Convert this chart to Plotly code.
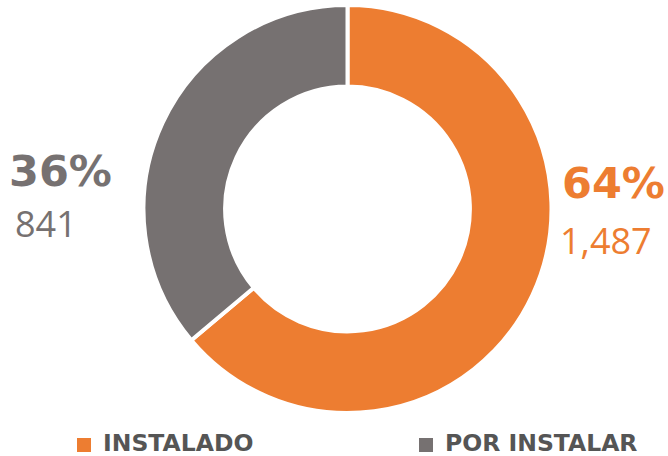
import plotly.graph_objects as go

categories = ["INSTALADO", "POR INSTALAR"]
values = [1487, 841]
colors = ["#ED7D31", "#767171"]

total = sum(values)
pcts = [round(v / total * 100) for v in values]

W, H = 668, 456
fig = go.Figure()
fig.add_trace(go.Pie(
    labels=categories, values=values, hole=0.6, sort=False,
    direction="clockwise", rotation=0,
    marker=dict(colors=colors, line=dict(color="white", width=4)),
    textinfo="none", hoverinfo="label+value+percent",
    domain=dict(x=[143 / W, 552 / W], y=[(H - 413) / H, (H - 5) / H]),
    showlegend=False,
))

bold_font = "DejaVu Sans"
light_font = "Open Sans"

def px(x, y):
    return x / W, 1 - y / H

# right label (INSTALADO)
x, y = px(560, 183)
fig.add_annotation(x=x, y=y, xref="paper", yref="paper", xanchor="left", yanchor="middle",
                   text=f"<b>{pcts[0]}%</b>", showarrow=False,
                   font=dict(family=bold_font, size=43, color=colors[0]))
x, y = px(558, 240)
fig.add_annotation(x=x, y=y, xref="paper", yref="paper", xanchor="left", yanchor="middle",
                   text=f"{values[0]:,}", showarrow=False,
                   font=dict(family=light_font, size=36, color=colors[0]))
# left label (POR INSTALAR)
x, y = px(7, 171)
fig.add_annotation(x=x, y=y, xref="paper", yref="paper", xanchor="left", yanchor="middle",
                   text=f"<b>{pcts[1]}%</b>", showarrow=False,
                   font=dict(family=bold_font, size=43, color=colors[1]))
x, y = px(13, 223)
fig.add_annotation(x=x, y=y, xref="paper", yref="paper", xanchor="left", yanchor="middle",
                   text=f"{values[1]:,}", showarrow=False,
                   font=dict(family=light_font, size=36, color=colors[1]))

# manual legend
legend_x = [77, 419]
for i, cat in enumerate(categories):
    x0 = legend_x[i]
    fig.add_shape(type="rect", xref="paper", yref="paper",
                  x0=x0 / W, x1=(x0 + 14) / W, y0=1 - 452 / H, y1=1 - 438 / H,
                  fillcolor=colors[i], line=dict(width=0))
    x, y = px(x0 + 24, 443)
    fig.add_annotation(x=x, y=y, xref="paper", yref="paper", xanchor="left", yanchor="middle",
                       text=f"<b>{cat}</b>", showarrow=False,
                       font=dict(family=bold_font, size=23.5, color="#555555"))

fig.update_layout(
    width=W, height=H, margin=dict(l=0, r=0, t=0, b=0),
    paper_bgcolor="white", plot_bgcolor="white",
    showlegend=False,
)
fig.write_html("out.html", config={"displayModeBar": False},
               post_script="document.body.style.margin='0';")
